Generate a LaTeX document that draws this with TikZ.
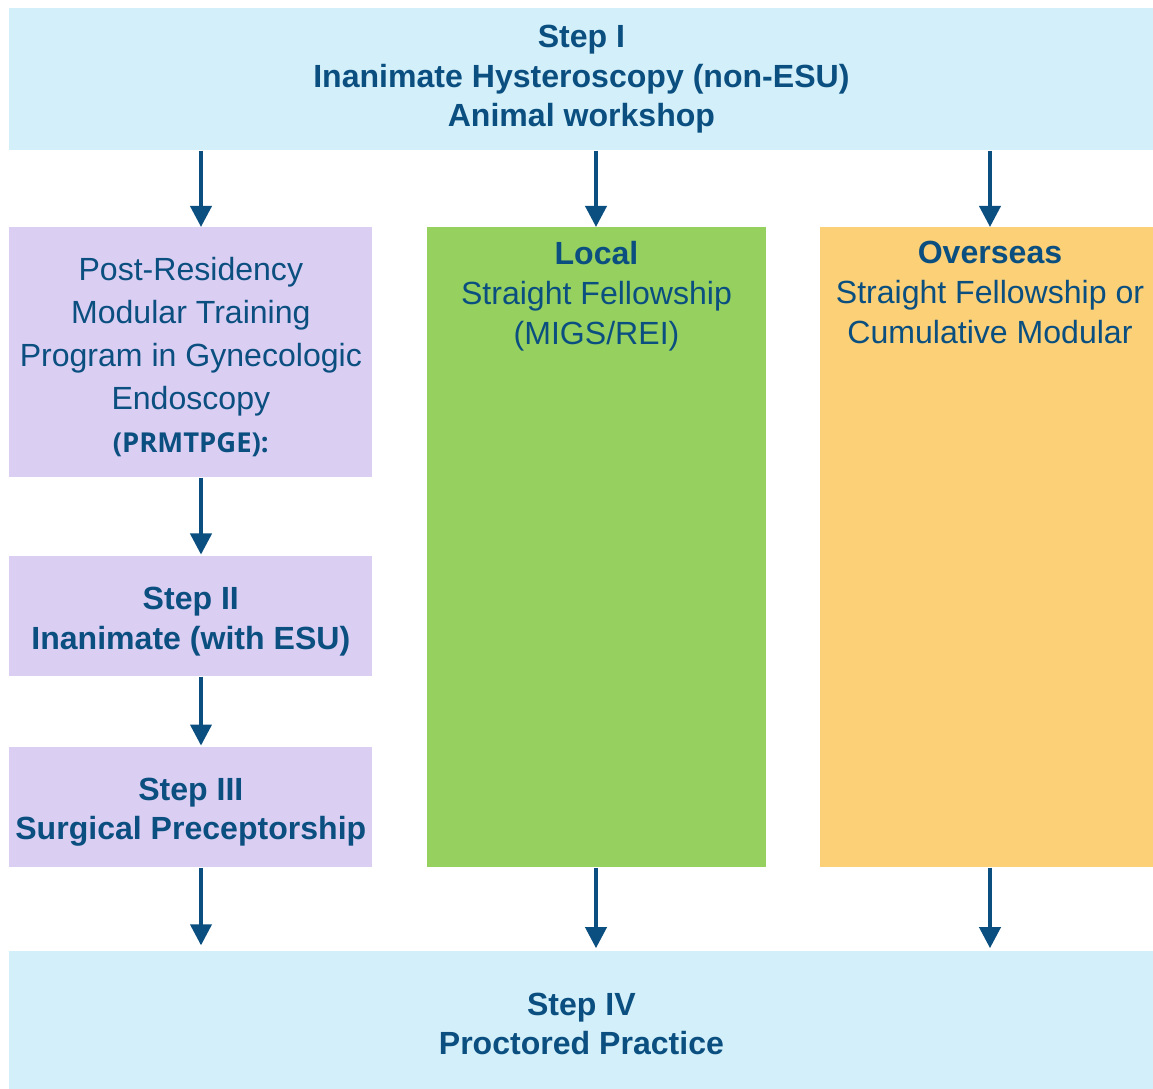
\documentclass[tikz,border=0pt]{standalone}
\usepackage{fontspec}
\setmainfont{Liberation Sans}
\newfontfamily\osfont{Open Sans}
\usetikzlibrary{arrows.meta,positioning}
\definecolor{stepblue}{HTML}{0B4F80}
\definecolor{lightcyan}{HTML}{D3F0FA}
\definecolor{lilac}{HTML}{DACEF2}
\definecolor{leafgreen}{HTML}{96D160}
\definecolor{sand}{HTML}{FBD077}
\tikzset{
  box/.style={anchor=north west,inner sep=0pt,text=stepblue,align=center,
    font=\fontsize{22.8}{28.3}\selectfont},
  label/.style={anchor=north,inner sep=0pt,text=stepblue,align=center,
    font=\fontsize{22.8}{28.3}\selectfont},
  arr/.style={draw=stepblue,line width=2.8pt,-{Triangle[width=15pt,length=15pt]}}
}
\begin{document}
\begin{tikzpicture}[x=0.025cm,y=-0.025cm]
\useasboundingbox (0,0) rectangle (1153,1089);
\node[box,fill=lightcyan,minimum width=28.6cm,minimum height=3.55cm,font=\fontsize{22.8}{28.3}\selectfont\bfseries] (stepI) at (9,8)
  {Step I\\Inanimate Hysteroscopy (non-ESU)\\Animal workshop};
\node[box,fill=lilac,minimum width=9.075cm,minimum height=6.25cm,font=\fontsize{22.8}{30.5}\selectfont] (prm) at (9,227)
  {\rule{0pt}{23pt}Post-Residency\\Modular Training\\Program in Gynecologic\\Endoscopy\\{\osfont\bfseries\fontsize{19.5}{30.5}\selectfont(PRMTPGE):}};
\node[box,fill=lilac,minimum width=9.075cm,minimum height=3cm,font=\fontsize{22.8}{28.3}\selectfont\bfseries] (stepII) at (9,556)
  {\rule{0pt}{23pt}Step II\\Inanimate (with ESU)};
\node[box,fill=lilac,minimum width=9.075cm,minimum height=3cm,font=\fontsize{22.8}{28.3}\selectfont\bfseries] (stepIII) at (9,747)
  {\rule{0pt}{23pt}Step III\\Surgical Preceptorship};
\node[box,fill=leafgreen,minimum width=8.475cm,minimum height=16cm] (local) at (427,227) {};
\node[box,fill=sand,minimum width=8.325cm,minimum height=16cm] (overseas) at (820,227) {};
\node[box,fill=lightcyan,minimum width=28.6cm,minimum height=3.45cm,font=\fontsize{22.8}{28.3}\selectfont\bfseries] (stepIV) at (9,951)
  {\rule{0pt}{21pt}Step IV\\Proctored Practice};
\node[label] (localtxt) at (596.5,241) {\textbf{Local}\\Straight Fellowship\\(MIGS/REI)};
\node[label] (overtxt) at (990,241) {\textbf{Overseas}\\Straight Fellowship or\\Cumulative Modular};
\coordinate (c1) at (201,0);
\coordinate (c2) at (596,0);
\coordinate (c3) at (990,0);
\draw[arr] (stepI.south -| c1) -- (prm.north -| c1);
\draw[arr] (stepI.south -| c2) -- (local.north -| c2);
\draw[arr] (stepI.south -| c3) -- (overseas.north -| c3);
\draw[arr] (prm.south -| c1) -- ([yshift=1pt]stepII.north -| c1);
\draw[arr] (stepII.south -| c1) -- ([yshift=1pt]stepIII.north -| c1);
\draw[arr,shorten >=4pt] (stepIII.south -| c1) -- (stepIV.north -| c1);
\draw[arr,shorten >=2pt] (local.south -| c2) -- (stepIV.north -| c2);
\draw[arr,shorten >=2pt] (overseas.south -| c3) -- (stepIV.north -| c3);
\end{tikzpicture}
\end{document}
